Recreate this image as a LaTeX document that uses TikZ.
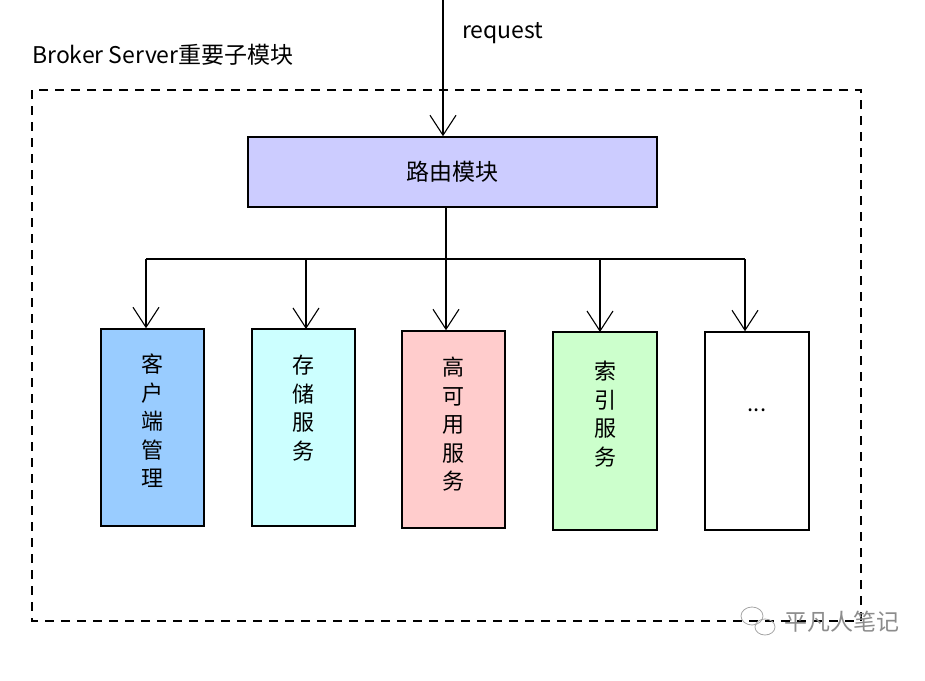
\documentclass[tikz,border=0pt]{standalone}
\usepackage{fontspec}
\setmainfont{DejaVu Sans}
\newfontfamily\cjk{Noto Sans CJK SC}
\usetikzlibrary{arrows.meta}
\definecolor{routefill}{RGB}{204,204,255}
\definecolor{bluefill}{RGB}{153,204,255}
\definecolor{cyanfill}{RGB}{204,255,255}
\definecolor{pinkfill}{RGB}{255,204,204}
\definecolor{greenfill}{RGB}{204,255,204}
\tikzset{
  modbox/.style={draw=black, line width=1.5pt, inner sep=0pt},
  vtext/.style={font=\cjk\fontsize{22}{28.5}\selectfont, align=center, anchor=north, inner sep=0pt},
  conn/.style={line width=1.3pt, -{Straight Barb[length=20pt,width=26pt,line width=1.1pt]}},
  plain/.style={line width=1.3pt},
}
\begin{document}
\begin{tikzpicture}[x=1pt,y=-1pt]
\useasboundingbox (0,0) rectangle (925,680);
\fill[white] (0,0) rectangle (925,680);
% container
\draw[line width=1.5pt, dash pattern=on 9pt off 7pt] (32,90) rectangle (861,621);
\node[anchor=west, inner sep=0pt, font=\cjk\fontsize{23}{26}\selectfont] (title) at (32,55) {Broker Server重要子模块};
\node[anchor=west, inner sep=0pt, font=\cjk\fontsize{23}{26}\selectfont] (reqlabel) at (462,33) {request};
% routing
\node[modbox, fill=routefill, minimum width=409pt, minimum height=70pt, font=\cjk\fontsize{23}{26}\selectfont] (route) at (452.5,172) {路由模块};
\coordinate (reqtop) at (443,0);
\draw[conn] (reqtop) -- (reqtop |- route.north);
% modules
\node[modbox, fill=bluefill, minimum width=103pt, minimum height=197pt] (m1) at (152.5,427.5) {};
\node[modbox, fill=cyanfill, minimum width=103pt, minimum height=197pt] (m2) at (303.5,427.5) {};
\node[modbox, fill=pinkfill, minimum width=103pt, minimum height=197pt] (m3) at (453.5,429.5) {};
\node[modbox, fill=greenfill, minimum width=104pt, minimum height=198pt] (m4) at (605,431) {};
\node[modbox, fill=white, minimum width=104pt, minimum height=198pt] (m5) at (757,431) {};
\node[vtext] (t1) at (152.5,354) {客\\户\\端\\管\\理};
\node[vtext] (t2) at (303.5,355) {存\\储\\服\\务};
\node[vtext] (t3) at (453.5,357) {高\\可\\用\\服\\务};
\node[vtext] (t4) at (605,361) {索\\引\\服\\务};
\node[font=\cjk\fontsize{22}{24}\selectfont] (t5) at (757,410) {...};
% connectors
\coordinate (junc) at (446,259);
\coordinate (hl) at (146,259);
\coordinate (hr) at (745,259);
\draw[plain] (route.south -| junc) -- (junc);
\draw[plain] (hl) -- (hr);
\draw[conn] (hl) -- (hl |- m1.north);
\draw[conn] (306,259) -- (306,329);
\draw[conn] (junc) -- (junc |- m3.north);
\draw[conn] (600,259) -- (600,332);
\draw[conn] (hr) -- (hr |- m5.north);
% watermark
\node[anchor=west, inner sep=0pt, text=black!45, font=\cjk\fontsize{23}{26}\selectfont] (wm) at (784,622) {平凡人笔记};
\draw[black!35, line width=0.8pt] (752,616) ellipse (11pt and 9pt);
\draw[black!35, line width=0.8pt] (765,627) ellipse (10pt and 8pt);
\end{tikzpicture}
\end{document}
